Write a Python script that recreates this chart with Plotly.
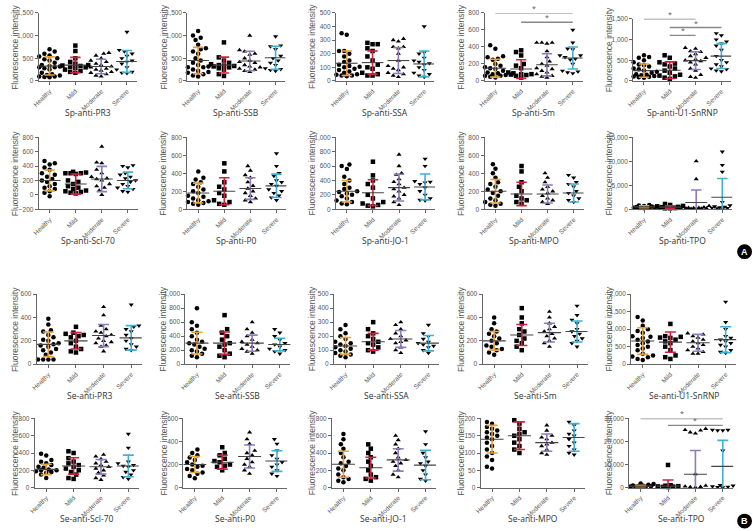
import plotly.graph_objects as go

GROUPS = ["Healthy", "Mild", "Moderate", "Severe"]
COLORS = ["#E9A13B", "#D0223E", "#8E7DB8", "#3FB2D4"]
SYMBOLS = ["circle", "square", "triangle-up", "triangle-down"]

TITLES = ["Sp-anti-PR3", "Sp-anti-SSB", "Sp-anti-SSA", "Sp-anti-Sm", "Sp-anti-U1-SnRNP",
          "Sp-anti-Scl-70", "Sp-anti-P0", "Sp-anti-JO-1", "Sp-anti-MPO", "Sp-anti-TPO",
          "Se-anti-PR3", "Se-anti-SSB", "Se-anti-SSA", "Se-anti-Sm", "Se-anti-U1-SnRNP",
          "Se-anti-Scl-70", "Se-anti-P0", "Se-anti-JO-1", "Se-anti-MPO", "Se-anti-TPO"]

# ---------------- data (points per group, mean, SD) ----------------
sp_pr3 = [[700, 650, 600, 560, 540, 500, 480, 450, 400, 380, 350, 330, 320, 300, 300, 280, 250, 200, 180, 150, 120, 100, 90, 80, 100, 130],
          [780, 660, 500, 420, 380, 350, 340, 330, 310, 300, 290, 250, 220, 200, 180],
          [620, 600, 560, 500, 450, 420, 380, 350, 320, 300, 270, 250, 230, 200, 180, 150, 120, 100],
          [1080, 680, 650, 600, 550, 500, 450, 420, 380, 300, 250, 200, 180, 170]]
sp_pr3_mean = [330, 350, 320, 430]
sp_pr3_sd = [200, 170, 160, 240]

sp_ssb = [[1100, 1000, 950, 900, 800, 720, 700, 650, 600, 500, 450, 400, 350, 320, 300, 300, 250, 220, 200, 180, 150, 120, 100],
          [850, 520, 450, 400, 370, 350, 340, 330, 320, 300, 280, 250, 150, 110],
          [1000, 680, 650, 600, 580, 500, 450, 420, 400, 350, 320, 300, 270, 250, 220, 200],
          [980, 780, 760, 700, 550, 500, 450, 400, 350, 300, 280, 260, 240, 220]]
sp_ssb_mean = [450, 350, 440, 510]
sp_ssb_sd = [290, 175, 215, 255]

sp_ssa = [[350, 340, 220, 220, 200, 180, 150, 140, 120, 110, 105, 100, 100, 90, 80, 70, 60, 50, 45, 40, 40, 35],
          [280, 270, 270, 240, 220, 180, 150, 120, 100, 90, 60, 50, 40, 40],
          [310, 300, 290, 250, 250, 240, 200, 150, 110, 100, 90, 80, 60, 50, 40, 30],
          [400, 210, 200, 170, 150, 140, 130, 120, 100, 80, 60, 50, 40, 30]]
sp_ssa_mean = [130, 135, 150, 125]
sp_ssa_sd = [90, 85, 95, 95]

sp_sm = [[420, 380, 290, 280, 260, 250, 200, 180, 160, 150, 140, 120, 100, 90, 80, 70, 60, 60, 50, 40],
         [360, 340, 300, 200, 180, 150, 100, 90, 80, 80, 75, 70, 60, 40],
         [450, 450, 450, 440, 350, 280, 230, 200, 180, 150, 140, 120, 100, 80, 60, 50, 40],
         [600, 450, 380, 370, 300, 300, 280, 260, 250, 200, 130, 120, 110, 100, 90]]
sp_sm_mean = [150, 140, 190, 270]
sp_sm_sd = [105, 110, 130, 130]

sp_u1 = [[620, 580, 560, 500, 450, 400, 380, 350, 300, 280, 250, 220, 200, 180, 160, 150, 140, 120, 110, 100, 90, 80],
         [620, 560, 450, 420, 400, 350, 300, 250, 200, 150, 130, 110, 80, 50],
         [800, 780, 720, 700, 650, 600, 560, 520, 500, 480, 450, 400, 300, 250, 150, 100, 80],
         [1150, 1100, 1000, 950, 900, 850, 750, 600, 500, 450, 400, 350, 300, 280, 250, 230]]
sp_u1_mean = [250, 260, 490, 600]
sp_u1_sd = [160, 200, 215, 300]

sp_scl70 = [[470, 440, 420, 380, 350, 300, 280, 250, 220, 200, 180, 150, 120, 100, 80, 50, 30, -20],
            [320, 310, 300, 300, 300, 290, 200, 180, 150, 120, 100, 80, 60, 50, 40, 30, 20],
            [670, 450, 440, 350, 300, 250, 230, 220, 200, 150, 120, 100, 60, 0],
            [410, 400, 380, 300, 280, 250, 230, 200, 180, 150, 120, 100, 80, 50, 40]]
sp_scl70_mean = [200, 150, 220, 200]
sp_scl70_sd = [145, 140, 175, 115]

sp_p0 = [[420, 350, 330, 300, 280, 250, 220, 200, 180, 150, 140, 120, 100, 90, 80, 70, 60, 50],
         [510, 420, 300, 250, 220, 180, 150, 100, 80, 60, 50],
         [480, 430, 380, 350, 300, 260, 230, 200, 180, 150, 120, 100, 80],
         [620, 480, 400, 370, 320, 300, 280, 260, 220, 200, 180, 150, 130, 100]]
sp_p0_mean = [180, 200, 230, 260]
sp_p0_sd = [110, 150, 120, 130]

sp_jo1 = [[620, 600, 560, 450, 400, 350, 300, 280, 250, 240, 220, 200, 180, 150, 120, 100, 80, 70],
          [660, 470, 400, 350, 300, 200, 150, 100, 80, 60, 50, 40],
          [760, 600, 500, 480, 420, 380, 350, 300, 280, 250, 200, 180, 150, 100, 60],
          [700, 600, 400, 390, 380, 370, 350, 300, 250, 200, 150, 130, 120]]
sp_jo1_mean = [250, 230, 300, 310]
sp_jo1_sd = [150, 180, 185, 180]

sp_mpo = [[500, 450, 400, 350, 300, 280, 250, 220, 200, 180, 150, 120, 100, 80, 60, 50, 40],
          [480, 420, 300, 250, 200, 150, 120, 100, 80, 60],
          [400, 350, 300, 250, 220, 200, 180, 150, 120, 100, 80, 60],
          [380, 350, 300, 280, 250, 200, 180, 150, 120, 100, 80]]
sp_mpo_mean = [200, 170, 170, 180]
sp_mpo_sd = [130, 130, 100, 100]

sp_tpo = [[900, 800, 700, 600, 550, 500, 450, 400, 400, 350, 300, 300, 250, 200],
          [1100, 900, 700, 600, 500, 450, 400, 350, 300, 300, 250, 200, 200],
          [10000, 6300, 700, 500, 400, 300, 300, 200, 200, 100, 100, 150, 250],
          [12000, 9200, 7800, 1500, 800, 600, 500, 400, 300, 300, 200, 200, 250]]
sp_tpo_mean = [500, 450, 1400, 2500]
sp_tpo_sd = [200, 250, 2600, 3900]

se_pr3 = [[390, 340, 290, 280, 250, 230, 210, 200, 180, 170, 160, 150, 130, 120, 100, 80, 40, 40, 40, 40],
          [320, 270, 260, 250, 240, 230, 200, 180, 150, 130, 110, 100],
          [490, 420, 330, 300, 280, 270, 250, 240, 220, 200, 190, 180, 160, 150, 110],
          [510, 330, 320, 300, 280, 250, 220, 200, 170, 150, 130, 120]]
se_pr3_mean = [170, 200, 245, 225]
se_pr3_sd = [105, 70, 95, 105]

se_ssb = [[800, 600, 550, 500, 450, 400, 350, 320, 300, 280, 250, 220, 200, 180, 150, 120, 100],
          [700, 500, 450, 400, 350, 300, 280, 250, 200, 150, 120, 100],
          [600, 500, 450, 400, 350, 320, 300, 280, 250, 220, 200, 180, 150],
          [500, 450, 400, 350, 300, 280, 250, 220, 200, 180, 150]]
se_ssb_mean = [300, 300, 300, 280]
se_ssb_sd = [155, 160, 115, 90]

se_ssa = [[280, 250, 220, 200, 180, 160, 150, 140, 130, 120, 110, 100, 90, 80, 70, 60, 50],
          [300, 250, 220, 200, 180, 160, 150, 140, 120, 100, 90],
          [300, 280, 250, 220, 200, 180, 170, 160, 150, 120, 100, 80],
          [280, 220, 200, 180, 160, 150, 140, 130, 120, 100, 80]]
se_ssa_mean = [130, 160, 180, 150]
se_ssa_sd = [60, 60, 60, 55]

se_sm = [[400, 350, 300, 280, 260, 240, 220, 200, 180, 160, 150, 130, 120, 100, 80],
         [480, 400, 350, 300, 280, 250, 220, 200, 180, 150, 120],
         [450, 400, 350, 320, 300, 280, 260, 240, 220, 200, 180, 150],
         [500, 420, 380, 350, 300, 280, 260, 240, 220, 200, 180, 150]]
se_sm_mean = [200, 250, 270, 280]
se_sm_sd = [80, 90, 80, 90]

se_u1 = [[1350, 1250, 1100, 1000, 950, 900, 800, 780, 750, 700, 650, 600, 550, 500, 450, 400, 300, 250, 220, 200, 150, 120],
         [1150, 800, 780, 760, 750, 700, 650, 600, 500, 400, 250, 200, 150],
         [880, 850, 800, 760, 700, 650, 600, 550, 500, 450, 400, 350, 300, 300],
         [1780, 1200, 1000, 800, 750, 700, 650, 600, 550, 500, 400, 350, 320]]
se_u1_mean = [660, 630, 610, 700]
se_u1_sd = [380, 290, 240, 370]

se_scl70 = [[390, 370, 320, 300, 280, 260, 240, 230, 220, 210, 200, 200, 190, 180, 170, 150, 110],
            [420, 400, 340, 300, 280, 260, 240, 220, 200, 180, 150, 110, 100],
            [380, 360, 330, 300, 280, 260, 240, 220, 200, 170, 140, 110, 90],
            [620, 460, 300, 280, 260, 250, 240, 200, 180, 150, 120, 100]]
se_scl70_mean = [210, 250, 240, 250]
se_scl70_sd = [60, 95, 85, 125]

se_p0 = [[330, 300, 280, 260, 240, 220, 200, 190, 180, 160, 150, 130, 120, 100, 80],
         [350, 300, 280, 250, 230, 220, 200, 190, 180, 150],
         [480, 420, 380, 320, 300, 280, 250, 220, 200, 180, 150, 120],
         [420, 380, 320, 280, 250, 220, 200, 180, 150, 120, 100]]
se_p0_mean = [200, 220, 270, 230]
se_p0_sd = [70, 60, 100, 90]

se_jo1 = [[620, 560, 500, 450, 400, 350, 300, 280, 250, 220, 200, 150, 120, 100, 80, 60],
          [500, 450, 400, 350, 300, 250, 200, 150, 120, 100, 80],
          [600, 550, 500, 450, 400, 350, 320, 300, 280, 250, 200, 150, 120],
          [650, 500, 400, 350, 300, 280, 250, 200, 150, 100, 80]]
se_jo1_mean = [270, 230, 320, 260]
se_jo1_sd = [150, 120, 130, 170]

se_mpo = [[190, 185, 175, 170, 165, 160, 155, 150, 145, 140, 130, 120, 110, 100, 90, 80, 60, 55],
          [195, 185, 170, 160, 155, 150, 140, 130, 120, 110, 100],
          [180, 165, 150, 145, 140, 130, 125, 120, 110, 100, 95],
          [190, 180, 165, 155, 150, 140, 130, 120, 110, 100, 95]]
se_mpo_mean = [140, 150, 130, 145]
se_mpo_sd = [40, 40, 25, 40]

se_tpo = [[1800, 1500, 1200, 1000, 900, 800, 700, 600, 500, 400, 300, 200],
          [9800, 1000, 800, 600, 500, 400, 300, 200],
          [25500, 25000, 24800, 24000, 23500, 5800, 800, 500, 300, 200, 100],
          [25000, 25000, 24800, 24800, 16000, 1000, 800, 500, 300, 200, 100]]
se_tpo_mean = [600, 600, 5800, 9200]
se_tpo_sd = [400, 2700, 10300, 11300]

DATA = [sp_pr3, sp_ssb, sp_ssa, sp_sm, sp_u1, sp_scl70, sp_p0, sp_jo1, sp_mpo, sp_tpo,
        se_pr3, se_ssb, se_ssa, se_sm, se_u1, se_scl70, se_p0, se_jo1, se_mpo, se_tpo]
MEANS = [sp_pr3_mean, sp_ssb_mean, sp_ssa_mean, sp_sm_mean, sp_u1_mean, sp_scl70_mean, sp_p0_mean,
         sp_jo1_mean, sp_mpo_mean, sp_tpo_mean, se_pr3_mean, se_ssb_mean, se_ssa_mean, se_sm_mean,
         se_u1_mean, se_scl70_mean, se_p0_mean, se_jo1_mean, se_mpo_mean, se_tpo_mean]
SDS = [sp_pr3_sd, sp_ssb_sd, sp_ssa_sd, sp_sm_sd, sp_u1_sd, sp_scl70_sd, sp_p0_sd,
       sp_jo1_sd, sp_mpo_sd, sp_tpo_sd, se_pr3_sd, se_ssb_sd, se_ssa_sd, se_sm_sd,
       se_u1_sd, se_scl70_sd, se_p0_sd, se_jo1_sd, se_mpo_sd, se_tpo_sd]

# y ranges / tick steps
YMIN = [0, 0, 0, 0, 0, -200, 0, 0, 0, 0, 0, 0, 0, 0, 0, 0, 0, 0, 0, 0]
YMAX = [1500, 1500, 500, 800, 1500, 800, 800, 1000, 800, 15000, 600, 1000, 500, 600, 2000, 800, 600, 800, 200, 30000]
DTICK = [500, 500, 100, 200, 500, 200, 200, 200, 200, 5000, 200, 200, 100, 200, 500, 200, 200, 200, 50, 10000]

# significance comparisons: (panel, group a, group b, level)
SIG_PANEL = [3, 3, 4, 4, 4, 4, 19, 19]
SIG_A = [0, 1, 0, 0, 1, 1, 0, 1]
SIG_B = [3, 3, 3, 2, 3, 2, 3, 3]
SIG_Y = [800, 690, 1690, 1500, 1290, 1100, 30000, 27000]

# ---------------- geometry ----------------
W, H = 753, 531
ROW_TOP = [9, 135, 294, 420]
ROW_BOT = [78, 208, 365, 490]
ROW_TITLE = [110, 240, 397, 521]
ROW_LEFT = [32, 32, 30, 28]
ROW_RIGHT = [131, 132, 136, 133]


def swarm(vals, ymin, ymax, hpx, pxunit, msize=5.0):
    order = sorted(range(len(vals)), key=lambda i: vals[i])
    placed = []
    offs = [0.0] * len(vals)
    step = 2.6
    cands = [0]
    for k in range(1, 6):
        cands += [-k, k]
    for i in order:
        ypx = (vals[i] - ymin) / (ymax - ymin) * hpx
        best = None
        bestscore = None
        for k in cands:
            xp = k * step
            d2 = min([(xp - px) ** 2 + (ypx - py) ** 2 for px, py in placed] or [1e9])
            if d2 >= msize ** 2:
                best = xp
                break
            if bestscore is None or d2 > bestscore:
                bestscore = d2
                best = xp
        placed.append((best, ypx))
        offs[i] = best / pxunit
    return offs


fig = go.Figure()
layout = dict(width=W, height=H, margin=dict(l=0, r=0, t=0, b=0),
              paper_bgcolor="white", plot_bgcolor="white", showlegend=False)
annotations = []
shapes = []
XR = [-0.42, 3.38]

for p in range(20):
    r, c = divmod(p, 5)
    top, bot = ROW_TOP[r], ROW_BOT[r]
    if p == 4:
        top = 15
    left = c * 150 + ROW_LEFT[r]
    right = c * 150 + ROW_RIGHT[r]
    ax = "" if p == 0 else str(p + 1)
    xa, ya = "x" + ax, "y" + ax
    layout["xaxis" + ax] = dict(domain=[left / W, right / W], anchor=ya, range=XR,
                                tickvals=[0, 1, 2, 3], ticktext=GROUPS, tickangle=-45,
                                tickfont=dict(size=6.5, color="#555", family="Liberation Sans"),
                                showline=True, linecolor="#666", linewidth=1, ticks="outside",
                                ticklen=3, tickcolor="#666", showgrid=False, zeroline=False,
                                fixedrange=True)
    layout["yaxis" + ax] = dict(domain=[1 - bot / H, 1 - top / H], anchor=xa,
                                range=[YMIN[p], YMAX[p]], dtick=DTICK[p], tick0=0,
                                tickformat=",", tickfont=dict(size=6.5, color="#555", family="Liberation Sans"),
                                showline=True, linecolor="#666", linewidth=1, ticks="outside",
                                ticklen=3, tickcolor="#666", showgrid=False, zeroline=False,
                                fixedrange=True)
    pxunit = (right - left) / (XR[1] - XR[0])
    for g in range(4):
        vals = DATA[p][g]
        offs = swarm(vals, YMIN[p], YMAX[p], bot - top, pxunit)
        fig.add_trace(go.Scatter(x=[g + o for o in offs], y=vals, mode="markers", xaxis=xa, yaxis=ya,
                                 marker=dict(symbol=SYMBOLS[g], size=4.5, color="black", line=dict(width=0)),
                                 cliponaxis=False, hoverinfo="skip"))
    for g in range(4):
        m, s = MEANS[p][g], SDS[p][g]
        lo, hi = m - s, m + s
        fig.add_trace(go.Scatter(x=[g - 0.2, g + 0.2, None, g, g, None, g - 0.2, g + 0.2],
                                 y=[lo, lo, None, lo, hi, None, hi, hi], mode="lines",
                                 xaxis=xa, yaxis=ya, line=dict(color=COLORS[g], width=1.6),
                                 hoverinfo="skip"))
        fig.add_trace(go.Scatter(x=[g - 0.42, g + 0.42], y=[m, m], mode="lines", xaxis=xa, yaxis=ya,
                                 line=dict(color="#444", width=1.1), hoverinfo="skip"))
    annotations.append(dict(text=TITLES[p], x=(left + right) / 2 / W, y=1 - ROW_TITLE[r] / H,
                            xref="paper", yref="paper", showarrow=False, xanchor="center", yanchor="middle",
                            borderpad=0,
                            font=dict(size=8.5, color="#333", family="Open Sans")))
    annotations.append(dict(text="Fluorescence intensity", x=(c * 150 + 8) / W, y=1 - (top + bot) / 2 / H,
                            xref="paper", yref="paper", showarrow=False, textangle=-90,
                            xanchor="center", yanchor="middle",
                            font=dict(size=8.5, color="#555", family="Liberation Sans Narrow, Liberation Sans")))

for i in range(len(SIG_PANEL)):
    p = SIG_PANEL[i]
    ax = str(p + 1)
    shapes.append(dict(type="line", xref="x" + ax, yref="y" + ax, x0=SIG_A[i], x1=SIG_B[i],
                       y0=SIG_Y[i], y1=SIG_Y[i], line=dict(color="#888", width=1.4)))
    annotations.append(dict(text="*", x=(SIG_A[i] + SIG_B[i]) / 2, y=SIG_Y[i], xref="x" + ax, yref="y" + ax,
                            showarrow=False, yanchor="bottom", yshift=-2,
                            font=dict(size=7, color="#555")))

BX, BR = 744.5, 7.5
for lab, cy in (("A", 251), ("B", 524)):
    shapes.append(dict(type="circle", xref="paper", yref="paper", x0=(BX - BR) / W, x1=(BX + BR) / W,
                       y0=1 - (cy + BR) / H, y1=1 - (cy - BR) / H, fillcolor="black",
                       line=dict(width=0), layer="above"))
    annotations.append(dict(text="<b>%s</b>" % lab, x=BX / W, y=1 - cy / H, xref="paper", yref="paper",
                            showarrow=False, xanchor="center", yanchor="middle", borderpad=0,
                            font=dict(size=9, color="white", family="Liberation Sans")))

layout["annotations"] = annotations
layout["shapes"] = shapes
fig.update_layout(**layout)
fig.write_html("out.html", config={"displayModeBar": False},
               post_script="document.body.style.margin='0px';document.body.style.overflow='hidden';")
